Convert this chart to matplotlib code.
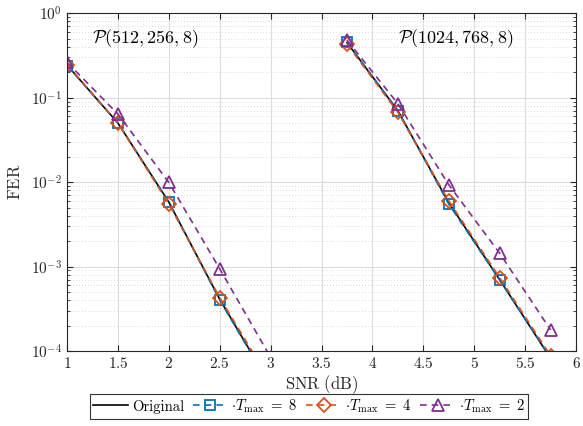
import numpy as np
import matplotlib
matplotlib.use("Agg")
import matplotlib.pyplot as plt
from matplotlib.ticker import LogLocator, NullFormatter, FixedLocator

plt.rcParams['mathtext.fontset'] = 'cm'
plt.rcParams['font.family'] = 'serif'
plt.rcParams['font.serif'] = ['cmr10', 'DejaVu Serif']
plt.rcParams['axes.formatter.use_mathtext'] = True

# ---- dati ----
snr_a = [1.0, 1.5, 2.0, 2.5, 3.0]          # P(512,256,8)
snr_b = [3.75, 4.25, 4.75, 5.25, 5.75]     # P(1024,768,8)

fer_orig_a = [0.243, 0.050, 0.0058, 4.1e-4, 3.9e-5]
fer_t8_a = [0.240, 0.050, 0.0058, 4.0e-4, 3.8e-5]
fer_t4_a = [0.245, 0.050, 0.0055, 4.3e-4, 4.3e-5]
fer_t2_a = [0.262, 0.064, 0.0099, 9.4e-4, 8.4e-5]

fer_orig_b = [0.45, 0.070, 0.0057, 7.0e-4, 8.2e-5]
fer_t8_b = [0.45, 0.070, 0.0055, 6.9e-4, 8.4e-5]
fer_t4_b = [0.43, 0.067, 0.0060, 7.4e-4, 8.8e-5]
fer_t2_b = [0.48, 0.085, 0.0093, 1.44e-3, 1.78e-4]

labels = ["Original", r"$\cdot T_{\max}\ =\ 8$", r"$\cdot T_{\max}\ =\ 4$", r"$\cdot T_{\max}\ =\ 2$"]
codici = [r"$\mathcal{P}(512,256,8)$", r"$\mathcal{P}(1024,768,8)$"]

BLU = "#0072BD"
ARANCIO = "#D95319"
VIOLA = "#7E2F8E"

fig = plt.figure(figsize=(5.83, 4.26), dpi=100)
ax = fig.add_axes([0.115, 0.176, 0.873, 0.793])

stili = [
    (fer_orig_a, fer_orig_b, dict(color="black", ls="-", lw=1.2)),
    (fer_t8_a, fer_t8_b, dict(color=BLU, ls=(0, (4, 3)), lw=1.2, marker="s", ms=7, mfc="none", mew=1.3)),
    (fer_t4_a, fer_t4_b, dict(color=ARANCIO, ls=(0, (4, 3)), lw=1.2, marker="D", ms=7, mfc="none", mew=1.3)),
    (fer_t2_a, fer_t2_b, dict(color=VIOLA, ls=(0, (4, 3)), lw=1.2, marker="^", ms=9, mfc="none", mew=1.3)),
]
for (ya, yb, st), lab in zip(stili, labels):
    ax.semilogy(snr_a, ya, label=lab, **st)
    ax.semilogy(snr_b, yb, **st)

ax.set_xlim(1, 6)
ax.set_ylim(1e-4, 1)
ax.xaxis.set_major_locator(FixedLocator(np.arange(1, 6.01, 0.5)))
ax.set_xticklabels(["$%g$" % v for v in np.arange(1, 6.01, 0.5)])
ax.yaxis.set_major_locator(LogLocator(base=10, numticks=10))
ax.yaxis.set_minor_locator(LogLocator(base=10, subs=np.arange(2, 10), numticks=10))
ax.yaxis.set_minor_formatter(NullFormatter())

ax.tick_params(which="both", direction="in", top=True, right=True, labelsize=11, colors="#262626")
ax.tick_params(which="major", length=4)
ax.tick_params(which="minor", length=2)
ax.grid(True, which="major", color="#dcdcdc", lw=0.8)
ax.grid(True, which="minor", axis="y", color="#d0d0d0", ls=(0, (1, 2.5)), lw=0.6)
ax.set_axisbelow(True)
for s in ax.spines.values():
    s.set_color("#262626")
    s.set_linewidth(0.8)

ax.set_xlabel(r"$\mathrm{SNR\ (dB)}$", fontsize=12, color="#262626", labelpad=2)
ax.set_ylabel(r"$\mathrm{FER}$", fontsize=12, color="#262626", labelpad=6)

ax.text(1.25, 0.5, codici[0], fontsize=13, va="center", ha="left")
ax.text(4.25, 0.5, codici[1], fontsize=13, va="center", ha="left")

leg = fig.legend(loc="lower center", bbox_to_anchor=(0.53, 0.0), ncol=4, fontsize=10.5,
                 frameon=True, fancybox=False, edgecolor="black", handlelength=2.4,
                 columnspacing=0.6, handletextpad=0.25, borderpad=0.25)
leg.get_frame().set_linewidth(0.8)

fig.savefig("out.png", dpi=100)
